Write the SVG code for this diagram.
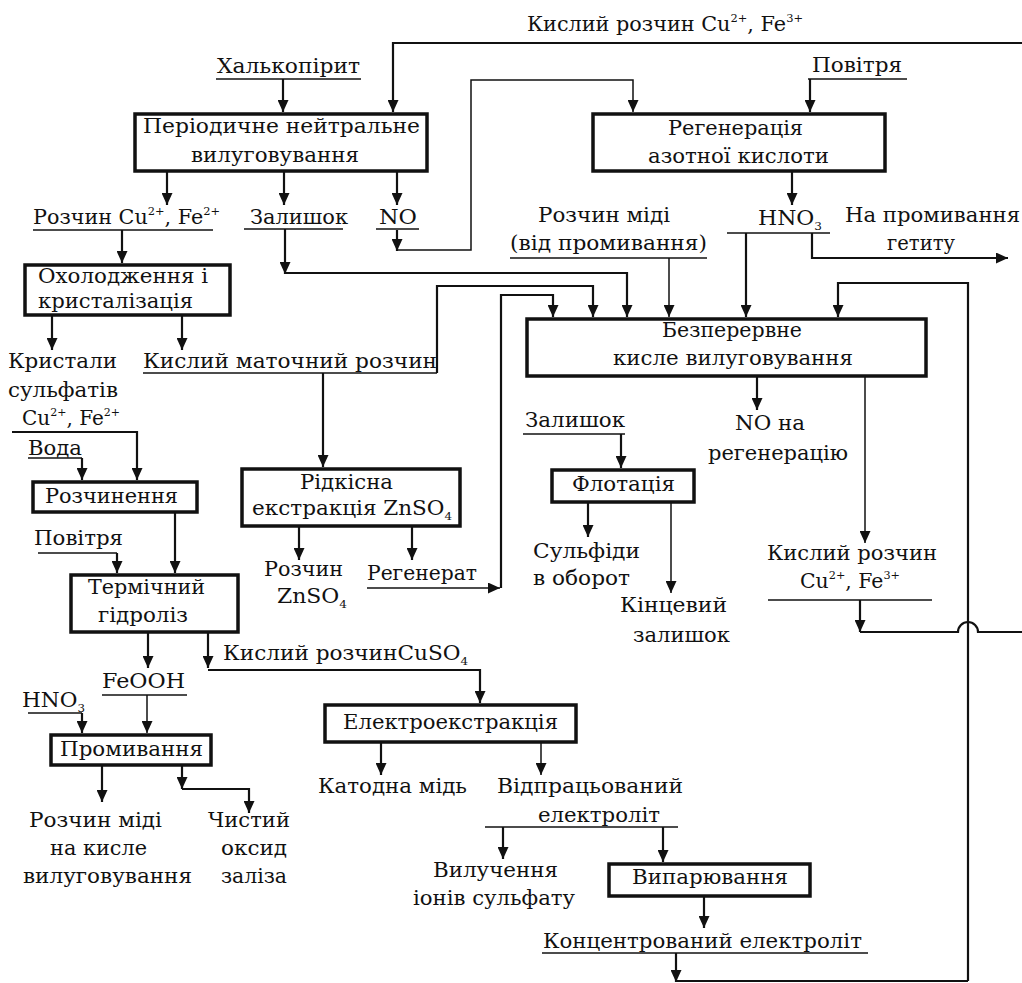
<svg xmlns="http://www.w3.org/2000/svg" width="1022" height="983" viewBox="0 0 1022 983">
<defs>
<marker id="ah" viewBox="0 0 12 11" markerWidth="12" markerHeight="11" refX="12" refY="5.5" orient="auto" markerUnits="userSpaceOnUse">
<path d="M0,0 L12,5.5 L0,11 Z" fill="#111"/>
</marker>
<style>
text{font-family:"DejaVu Serif","Liberation Serif",serif;font-size:20px;fill:#111}
.sup{font-size:11px}
.box{fill:#fff;stroke:#111;stroke-width:3.5}
.c{fill:none;stroke:#111;stroke-width:2.2}
.t{fill:none;stroke:#111;stroke-width:1.5}
.a{marker-end:url(#ah)}
.u{stroke:#111;stroke-width:1.6}
</style>
</defs>
<rect width="1022" height="983" fill="#fff"/>

<g id="connectors">
<path class="c a" d="M283,79 V112"/>
<path class="c a" d="M1022,43 H393 V112"/>
<path class="c a" d="M167,172 V205"/>
<path class="c a" d="M284,172 V205"/>
<path class="c a" d="M397,172 V205"/>
<path class="c a" d="M397,230 V251"/>
<path class="t a" d="M397,250 H471 V80 H633 V112"/>
<path class="c a" d="M810,79 V112"/>
<path class="c a" d="M792,172 V205"/>
<path class="c a" d="M746,233 V317"/>
<path class="c a" d="M812,233 V258 H1008"/>
<path class="c a" d="M122,230 V263"/>
<path class="c a" d="M285,229 V274"/>
<path class="c a" d="M285,273 H627 V317"/>
<path class="t a" d="M669,258 V317"/>
<path class="c a" d="M52,316 V350"/>
<path class="c a" d="M182,316 V350"/>
<path class="c a" d="M437,373 V286 H593 V317"/>
<path class="c a" d="M323,373 V467"/>
<path class="c a" d="M12,432 H137 V480"/>
<path class="c a" d="M82,458 V480"/>
<path class="c a" d="M175,513 V573"/>
<path class="c a" d="M117,553 V573"/>
<path class="c a" d="M299,527 V560"/>
<path class="c a" d="M412,527 V560"/>
<path class="t a" d="M367,588 H500"/>
<path class="c a" d="M501,588 V295 H553 V317"/>
<path class="c a" d="M757,377 V410"/>
<path class="t a" d="M865,377 V543"/>
<path class="c a" d="M860,600 V632"/>
<path class="c" d="M860,632 H958 A10,10 0 0 1 978,632 H1022"/>
<path class="c a" d="M968,981 V283 H838 V317"/>
<path class="c a" d="M676,953 V982"/>
<path class="c" d="M676,981 H968"/>
<path class="c a" d="M621,434 V468"/>
<path class="c a" d="M588,503 V537"/>
<path class="t a" d="M671,503 V593"/>
<path class="c a" d="M148,633 V668"/>
<path class="c a" d="M208,633 V668"/>
<path class="c a" d="M208,670 H480 V703"/>
<path class="t a" d="M147,695 V733"/>
<path class="c a" d="M82,713 V733"/>
<path class="c a" d="M102,766 V802"/>
<path class="c a" d="M182,766 V789"/>
<path class="c a" d="M182,789 H249 V813"/>
<path class="c a" d="M381,743 V775"/>
<path class="t a" d="M541,743 V775"/>
<path class="t" d="M485,827 H678"/>
<path class="c a" d="M503,827 V859"/>
<path class="c a" d="M663,827 V862"/>
<path class="c a" d="M704,897 V928"/>
</g>

<g id="n-periodic"><rect class="box" x="135" y="114" width="292" height="57"/>
<text x="143" y="133" textLength="277" lengthAdjust="spacingAndGlyphs">Періодичне нейтральне</text>
<text x="191" y="162" textLength="168" lengthAdjust="spacingAndGlyphs">вилуговування</text></g>

<g id="n-regen"><rect class="box" x="593" y="114" width="292" height="57"/>
<text x="668" y="135" textLength="135" lengthAdjust="spacingAndGlyphs">Регенерація</text>
<text x="648" y="163" textLength="181" lengthAdjust="spacingAndGlyphs">азотної кислоти</text></g>

<g id="n-cool"><rect class="box" x="25" y="265" width="205" height="50"/>
<text x="38" y="283" textLength="170" lengthAdjust="spacingAndGlyphs">Охолодження і</text>
<text x="38" y="308" textLength="155" lengthAdjust="spacingAndGlyphs">кристалізація</text></g>

<g id="n-cont"><rect class="box" x="527" y="319" width="399" height="57"/>
<text x="662" y="337" textLength="140" lengthAdjust="spacingAndGlyphs">Безперервне</text>
<text x="613" y="365" textLength="240" lengthAdjust="spacingAndGlyphs">кисле вилуговування</text></g>

<g id="n-rare"><rect class="box" x="242" y="469" width="218" height="57"/>
<text x="300" y="489" textLength="93" lengthAdjust="spacingAndGlyphs">Рідкісна</text>
<text x="252" y="515" textLength="200" lengthAdjust="spacingAndGlyphs">екстракція ZnSO<tspan class="sup" dy="5">4</tspan></text></g>

<g id="n-flot"><rect class="box" x="552" y="470" width="142" height="32"/>
<text x="572" y="491" textLength="103" lengthAdjust="spacingAndGlyphs">Флотація</text></g>

<g id="n-diss"><rect class="box" x="33" y="482" width="164" height="30"/>
<text x="45" y="503" textLength="133" lengthAdjust="spacingAndGlyphs">Розчинення</text></g>

<g id="n-thermal"><rect class="box" x="71" y="575" width="167" height="57"/>
<text x="88" y="594" textLength="117" lengthAdjust="spacingAndGlyphs">Термічний</text>
<text x="98" y="622" textLength="90" lengthAdjust="spacingAndGlyphs">гідроліз</text></g>

<g id="n-wash"><rect class="box" x="51" y="735" width="160" height="30"/>
<text x="60" y="756" textLength="143" lengthAdjust="spacingAndGlyphs">Промивання</text></g>

<g id="n-electro"><rect class="box" x="325" y="705" width="251" height="37"/>
<text x="343" y="729" textLength="215" lengthAdjust="spacingAndGlyphs">Електроекстракція</text></g>

<g id="n-evap"><rect class="box" x="609" y="864" width="201" height="32"/>
<text x="632" y="884" textLength="156" lengthAdjust="spacingAndGlyphs">Випарювання</text></g>

<g id="labels">
<text x="527" y="31" textLength="276" lengthAdjust="spacingAndGlyphs">Кислий розчин Cu<tspan class="sup" dy="-9">2+</tspan><tspan dy="9">, Fe</tspan><tspan class="sup" dy="-9">3+</tspan></text>
<text x="217" y="73" textLength="143" lengthAdjust="spacingAndGlyphs">Халькопірит</text>
<line class="u" x1="216" y1="79" x2="361" y2="79"/>
<text x="812" y="72" textLength="90" lengthAdjust="spacingAndGlyphs">Повітря</text>
<line class="u" x1="808" y1="79" x2="907" y2="79"/>
<text x="33" y="224" textLength="187" lengthAdjust="spacingAndGlyphs">Розчин Cu<tspan class="sup" dy="-9">2+</tspan><tspan dy="9">, Fe</tspan><tspan class="sup" dy="-9">2+</tspan></text>
<line class="u" x1="33" y1="230" x2="213" y2="230"/>
<text x="250" y="224" textLength="98" lengthAdjust="spacingAndGlyphs">Залишок</text>
<line class="u" x1="244" y1="229" x2="343" y2="229"/>
<text x="379" y="224" textLength="38" lengthAdjust="spacingAndGlyphs">NO</text>
<line class="u" x1="376" y1="229" x2="419" y2="229"/>
<text x="538" y="222" textLength="132" lengthAdjust="spacingAndGlyphs">Розчин міді</text>
<text x="510" y="250" textLength="197" lengthAdjust="spacingAndGlyphs">(від промивання)</text>
<line class="u" x1="510" y1="258" x2="707" y2="258"/>
<text x="758" y="225" textLength="64" lengthAdjust="spacingAndGlyphs">HNO<tspan class="sup" dy="5">3</tspan></text>
<line class="u" x1="727" y1="233" x2="830" y2="233"/>
<text x="845" y="222" textLength="175" lengthAdjust="spacingAndGlyphs">На промивання</text>
<text x="887" y="250" textLength="68" lengthAdjust="spacingAndGlyphs">гетиту</text>
<text x="143" y="368" textLength="294" lengthAdjust="spacingAndGlyphs">Кислий маточний розчин</text>
<line class="u" x1="143" y1="373" x2="437" y2="373"/>
<text x="8" y="368" textLength="109" lengthAdjust="spacingAndGlyphs">Кристали</text>
<text x="8" y="397" textLength="110" lengthAdjust="spacingAndGlyphs">сульфатів</text>
<text x="22" y="425" textLength="98" lengthAdjust="spacingAndGlyphs">Cu<tspan class="sup" dy="-9">2+</tspan><tspan dy="9">, Fe</tspan><tspan class="sup" dy="-9">2+</tspan></text>
<text x="28" y="455" textLength="54" lengthAdjust="spacingAndGlyphs">Вода</text>
<line class="u" x1="28" y1="458" x2="82" y2="458"/>
<text x="34" y="545" textLength="89" lengthAdjust="spacingAndGlyphs">Повітря</text>
<line class="u" x1="38" y1="553" x2="117" y2="553"/>
<text x="264" y="576" textLength="79" lengthAdjust="spacingAndGlyphs">Розчин</text>
<text x="277" y="603" textLength="70" lengthAdjust="spacingAndGlyphs">ZnSO<tspan class="sup" dy="5">4</tspan></text>
<text x="367" y="580" textLength="110" lengthAdjust="spacingAndGlyphs">Регенерат</text>
<text x="735" y="430" textLength="70" lengthAdjust="spacingAndGlyphs">NO на</text>
<text x="708" y="460" textLength="140" lengthAdjust="spacingAndGlyphs">регенерацію</text>
<text x="525" y="427" textLength="100" lengthAdjust="spacingAndGlyphs">Залишок</text>
<line class="u" x1="523" y1="434" x2="625" y2="434"/>
<text x="533" y="558" textLength="107" lengthAdjust="spacingAndGlyphs">Сульфіди</text>
<text x="533" y="585" textLength="97" lengthAdjust="spacingAndGlyphs">в оборот</text>
<text x="620" y="612" textLength="107" lengthAdjust="spacingAndGlyphs">Кінцевий</text>
<text x="633" y="642" textLength="97" lengthAdjust="spacingAndGlyphs">залишок</text>
<text x="767" y="560" textLength="170" lengthAdjust="spacingAndGlyphs">Кислий розчин</text>
<text x="800" y="588" textLength="100" lengthAdjust="spacingAndGlyphs">Cu<tspan class="sup" dy="-9">2+</tspan><tspan dy="9">, Fe</tspan><tspan class="sup" dy="-9">3+</tspan></text>
<line class="u" x1="768" y1="600" x2="932" y2="600"/>
<text x="223" y="660" textLength="245" lengthAdjust="spacingAndGlyphs">Кислий розчинCuSO<tspan class="sup" dy="5">4</tspan></text>
<text x="102" y="688" textLength="83" lengthAdjust="spacingAndGlyphs">FeOOH</text>
<line class="u" x1="102" y1="695" x2="187" y2="695"/>
<text x="22" y="707" textLength="63" lengthAdjust="spacingAndGlyphs">HNO<tspan class="sup" dy="5">3</tspan></text>
<line class="u" x1="28" y1="713" x2="82" y2="713"/>
<text x="29" y="827" textLength="133" lengthAdjust="spacingAndGlyphs">Розчин міді</text>
<text x="50" y="855" textLength="97" lengthAdjust="spacingAndGlyphs">на кисле</text>
<text x="23" y="883" textLength="169" lengthAdjust="spacingAndGlyphs">вилуговування</text>
<text x="208" y="827" textLength="82" lengthAdjust="spacingAndGlyphs">Чистий</text>
<text x="221" y="855" textLength="66" lengthAdjust="spacingAndGlyphs">оксид</text>
<text x="221" y="883" textLength="66" lengthAdjust="spacingAndGlyphs">заліза</text>
<text x="318" y="793" textLength="149" lengthAdjust="spacingAndGlyphs">Катодна мідь</text>
<text x="497" y="793" textLength="186" lengthAdjust="spacingAndGlyphs">Відпрацьований</text>
<text x="538" y="822" textLength="122" lengthAdjust="spacingAndGlyphs">електроліт</text>
<text x="433" y="877" textLength="125" lengthAdjust="spacingAndGlyphs">Вилучення</text>
<text x="413" y="905" textLength="162" lengthAdjust="spacingAndGlyphs">іонів сульфату</text>
<text x="543" y="948" textLength="319" lengthAdjust="spacingAndGlyphs">Концентрований електроліт</text>
<line class="u" x1="542" y1="953" x2="868" y2="953"/>
</g>
</svg>
